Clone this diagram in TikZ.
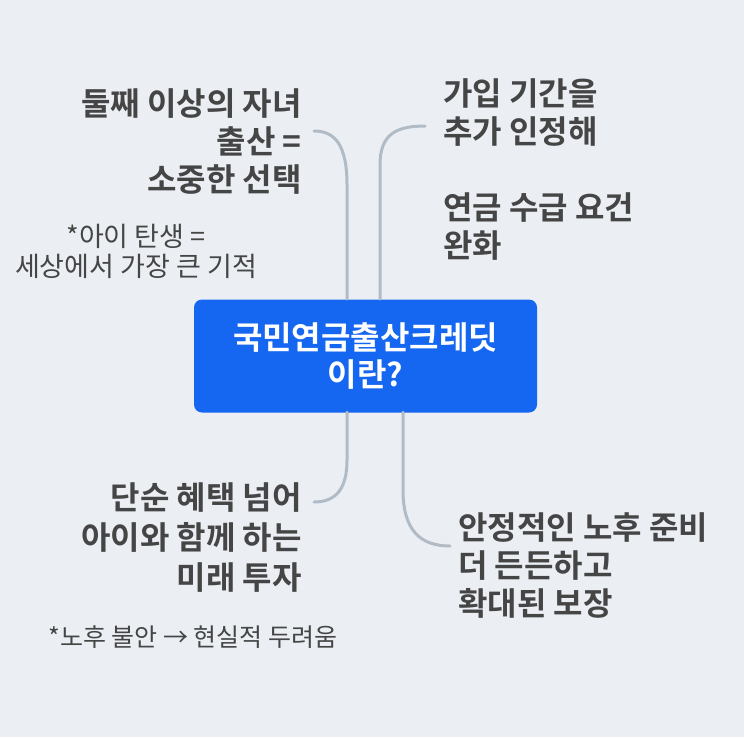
\documentclass[tikz,border=0pt]{standalone}
\usepackage{fontspec}
\setmainfont{Noto Sans CJK KR}
\newfontfamily\kb{Noto Sans CJK KR Bold}
\definecolor{bg}{HTML}{EBEFF4}
\definecolor{cb}{HTML}{1566F0}
\definecolor{ln}{HTML}{B1BBC6}
\definecolor{tx}{HTML}{454545}
\begin{document}
\begin{tikzpicture}[x=1pt,y=-1pt,
  br/.style={draw=ln,line width=3pt,line cap=round},
  lbl/.style={text=tx,font=\kb\fontsize{32}{38}\selectfont,inner sep=0pt,align=left},
  lblr/.style={lbl,align=right},
  note/.style={text=tx,font=\fontsize{27}{30}\selectfont,inner sep=0pt,align=center}]
\fill[bg] (0,0) rectangle (744,737);
\useasboundingbox (0,0) rectangle (744,737);
\node[fill=cb,rounded corners=8pt,minimum width=343pt,minimum height=113pt,text=white,
  font=\kb\fontsize{32}{37}\selectfont,align=center] (c) at (365.5,356) {국민연금출산크레딧\\이란?};
\coordinate (a1) at (347,299); \coordinate (a2) at (314,131);
\coordinate (b1) at (380,299); \coordinate (b2) at (425,126);
\coordinate (d1) at (347,412); \coordinate (d2) at (314,502);
\coordinate (e1) at (403,412); \coordinate (e2) at (450,546);
\draw[br] (a1) -- (347,185) .. controls (347,145) and (335,131) .. (a2);
\draw[br] (b1) -- (380,165) .. controls (380,135) and (395,126) .. (b2);
\draw[br] (d1) -- (347,460) .. controls (347,490) and (335,502) .. (d2);
\draw[br] (e1) -- (403,490) .. controls (403,530) and (420,546) .. (e2);
\node[lblr,anchor=north east] (t1) at (302,88) {둘째 이상의 자녀\\출산 =\\소중한 선택};
\node[note] (n1) at (136,251) {*아이 탄생 =\\세상에서 가장 큰 기적};
\node[lbl,anchor=north west] (t2) at (443,78) {가입 기간을\\추가 인정해};
\node[lbl,anchor=north west] (t3) at (443,192) {연금 수급 요건\\완화};
\node[lblr,anchor=north east,font=\kb\fontsize{32}{40}\selectfont] (t4) at (302,482) {단순 혜택 넘어\\아이와 함께 하는\\미래 투자};
\node[lbl,anchor=north west] (t5) at (458,512) {안정적인 노후 준비\\더 든든하고\\확대된 보장};
\node[note,font=\fontsize{25}{30}\selectfont] (n2) at (193,637) {*노후 불안 → 현실적 두려움};
\end{tikzpicture}
\end{document}
